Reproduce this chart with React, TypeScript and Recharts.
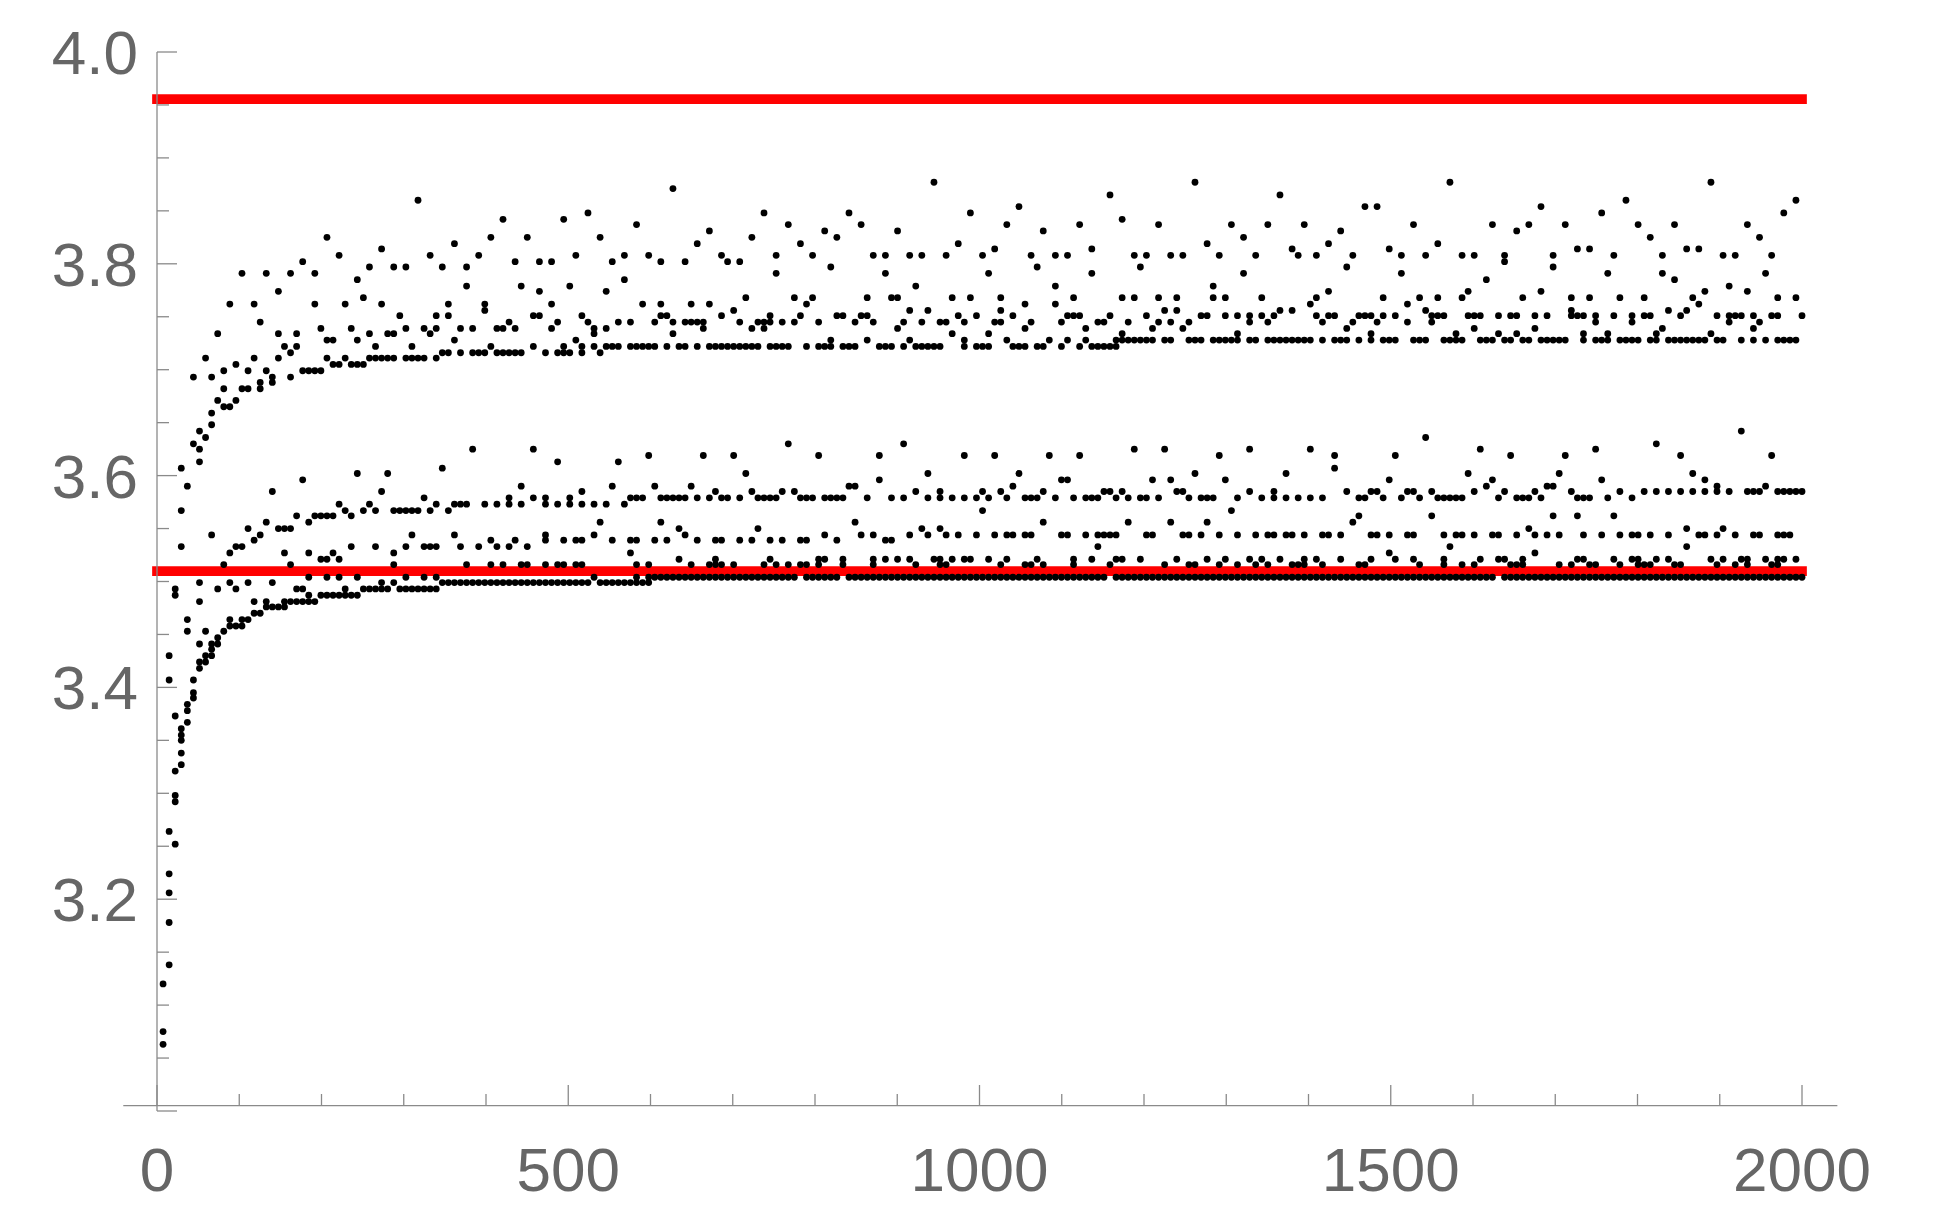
import { ScatterChart, Scatter, XAxis, YAxis, ReferenceLine } from "recharts"

// columns are evenly spaced, 271 of them between 0 and 2000
const colStep = 2000 / 271

// dense rows: [y, [firstCol, lastCol][]]
const floorRuns: [number, [number, number][]][] = [
  [3.504, [[82, 105], [107, 112], [114, 156], [158, 220], [222, 271]]],
  [3.499, [[47, 71], [73, 81]]],
  [3.493, [[34, 38], [40, 46]]],
  [3.487, [[27, 33]]],
  [3.481, [[21, 26]]],
]

// scattered points below the floor / early curve: [y, cols]
const curvePoints: [number, number[]][] = [
  [3.504, [25, 28, 30, 33, 41, 44, 46, 72, 79, 81]],
  [3.499, [7, 12, 15, 19, 37, 39]],
  [3.493, [3, 10, 13, 23, 24, 31]],
  [3.487, [3, 25]],
  [3.481, [7, 16, 18]],
  [3.476, [18, 19, 20, 21]],
  [3.47, [16, 17]],
  [3.464, [5, 12, 14, 15]],
  [3.458, [12, 13, 14]],
  [3.453, [5, 8, 11]],
  [3.447, [10]],
  [3.441, [7, 9, 10]],
  [3.436, [9]],
  [3.43, [2, 8, 9]],
  [3.424, [7, 8]],
  [3.418, [7]],
  [3.407, [2, 6]],
  [3.395, [6]],
  [3.39, [6]],
  [3.384, [5]],
  [3.378, [5]],
  [3.373, [3]],
  [3.367, [5]],
  [3.361, [4]],
  [3.355, [4]],
  [3.35, [4]],
  [3.338, [4]],
  [3.327, [4]],
  [3.321, [3]],
  [3.298, [3]],
  [3.292, [3]],
  [3.264, [2]],
  [3.252, [3]],
  [3.224, [2]],
  [3.206, [2]],
  [3.178, [2]],
  [3.138, [2]],
  [3.12, [1]],
  [3.075, [1]],
  [3.063, [1]],
]

const lowerBand: [number, number[]][] = [
  [3.516, [11, 22, 39, 51, 55, 57, 60, 61, 64, 66, 67, 69, 70, 79, 81, 88, 91, 92, 93, 95, 100, 102, 104, 106, 107, 109, 113, 118, 125, 129, 130, 139, 143, 144, 146, 151, 157, 166, 170, 171, 175, 178, 181, 183, 187, 188, 189, 192, 198, 199, 208, 212, 215, 217, 223, 224, 225, 231, 233, 236, 237, 241, 244, 245, 246, 250, 251, 257, 260, 262, 266, 267]],
  [3.521, [27, 28, 30, 86, 92, 101, 109, 110, 113, 118, 120, 122, 124, 128, 129, 131, 133, 134, 137, 140, 145, 151, 154, 158, 159, 162, 168, 173, 176, 180, 182, 185, 189, 191, 195, 200, 204, 207, 212, 218, 221, 222, 225, 234, 235, 240, 243, 244, 247, 249, 256, 258, 261, 262, 265, 267, 268, 270]],
  [3.527, [12, 21, 25, 29, 39, 78, 203, 227]],
  [3.533, [4, 13, 14, 32, 36, 41, 44, 45, 46, 50, 53, 56, 58, 61, 155, 213, 252]],
  [3.539, [16, 55, 59, 64, 67, 69, 70, 75, 78, 79, 82, 84, 89, 92, 93, 96, 98, 101, 103, 106, 107, 112, 120, 121]],
  [3.544, [9, 17, 42, 49, 64, 72, 87, 110, 116, 118, 124, 127, 130, 132, 135, 138, 140, 141, 143, 144, 149, 150, 153, 155, 156, 157, 158, 163, 164, 169, 170, 172, 175, 178, 181, 183, 184, 186, 187, 189, 192, 193, 195, 200, 201, 203, 206, 207, 212, 214, 215, 217, 220, 221, 224, 227, 229, 231, 235, 238, 241, 243, 244, 246, 249, 254, 255, 257, 260, 263, 264, 267, 268, 269]],
  [3.55, [15, 20, 21, 22, 86, 99, 126, 129, 226, 252, 258]],
  [3.556, [18, 25, 73, 83, 115, 146, 160, 167, 173, 197]],
  [3.562, [23, 26, 27, 28, 29, 32, 198, 210, 230, 234, 240]],
  [3.567, [4, 31, 34, 36, 39, 40, 41, 42, 43, 45, 48, 136, 177]],
  [3.573, [30, 35, 46, 49, 50, 51, 54, 56, 58, 60, 64, 66, 68, 70, 72, 74, 77]],
  [3.579, [44, 58, 62, 64, 68, 78, 79, 80, 83, 84, 85, 86, 87, 89, 91, 93, 94, 96, 99, 100, 101, 102, 106, 107, 108, 110, 111, 112, 113, 117, 121, 123, 127, 129, 131, 133, 135, 137, 140, 143, 144, 145, 148, 151, 153, 154, 155, 158, 160, 162, 163, 165, 170, 172, 173, 174, 178, 182, 184, 186, 188, 190, 192, 198, 199, 202, 205, 208, 211, 212, 213, 214, 215, 221, 224, 225, 226, 228, 234, 235, 236, 239, 243]],
  [3.585, [19, 37, 70, 92, 98, 103, 105, 125, 129, 136, 139, 146, 156, 157, 159, 168, 169, 180, 184, 196, 200, 201, 206, 207, 210, 217, 222, 227, 233, 241, 245, 247, 249, 251, 253, 255, 257, 259, 262, 263, 264, 267, 268, 269, 270, 271]],
  [3.59, [5, 60, 75, 82, 88, 114, 115, 141, 219, 229, 230, 257, 265]],
  [3.596, [24, 119, 149, 150, 164, 167, 176, 203, 220, 238, 255]],
  [3.602, [33, 38, 97, 127, 142, 171, 186, 216, 231, 253]],
  [3.607, [4, 47, 194]],
  [3.613, [7, 66, 76]],
  [3.619, [81, 90, 95, 109, 119, 133, 138, 147, 152, 175, 194, 204, 223, 232, 251, 266]],
  [3.625, [7, 52, 62, 161, 166, 180, 190, 218, 237]],
  [3.63, [6, 104, 123, 247]],
  [3.636, [8, 209]],
  [3.642, [7, 261]],
]

const upperBand: [number, number[]][] = [
  [3.648, [9]],
  [3.659, [9]],
  [3.665, [11, 12]],
  [3.671, [10, 13]],
  [3.682, [11, 14, 15, 17]],
  [3.688, [17, 19]],
  [3.693, [6, 9, 19, 22]],
  [3.699, [11, 15, 18, 24, 25, 26, 27]],
  [3.705, [13, 29, 30, 32, 33, 34]],
  [3.711, [8, 16, 20, 28, 31, 35, 36, 37, 38, 39, 41, 42, 43, 44, 46]],
  [3.716, [22, 47, 48, 50, 52, 53, 54, 56, 57, 58, 59, 60, 64, 66, 67, 68, 70, 73]],
  [3.722, [21, 23, 36, 42, 55, 62, 67, 70, 72, 74, 75, 76, 78, 79, 80, 81, 82, 84, 86, 87, 89, 91, 92, 93, 94, 95, 96, 97, 98, 99, 101, 102, 103, 104, 107, 109, 110, 111, 113, 114, 115, 119, 120, 121, 123, 125, 126, 127, 128, 129, 133, 135, 136, 137, 141, 142, 143, 145, 146, 149, 152, 154, 155, 156, 157, 158]],
  [3.728, [28, 29, 33, 49, 69, 111, 117, 124, 133, 140, 147, 150, 153, 158, 159, 160, 161, 162, 163, 164, 166, 167, 170, 171, 172, 174, 175, 176, 177, 178, 180, 181, 183, 184, 185, 186, 187, 188, 189, 190, 192, 194, 195, 196, 198, 200, 202, 203, 204, 207, 208, 209, 212, 213, 214, 215, 218, 219, 220, 222, 223, 225, 226, 228, 229, 230, 231, 232, 235, 237, 238, 239, 241, 242, 243, 244, 246, 247, 249, 250, 251, 252, 253, 254, 255, 257, 258, 261, 263, 265, 267, 268, 269, 270]],
  [3.734, [10, 20, 23, 35, 38, 39, 45, 72, 85, 131, 137, 159, 178, 200, 214, 221, 224, 235, 239, 247, 256]],
  [3.739, [27, 32, 41, 44, 46, 50, 52, 56, 57, 59, 65, 72, 74, 90, 98, 100, 122, 143, 153, 164, 169, 196, 217, 227, 248, 263]],
  [3.745, [17, 58, 66, 71, 76, 78, 82, 85, 87, 88, 89, 90, 96, 99, 100, 101, 103, 105, 109, 115, 118, 123, 126, 129, 130, 133, 138, 139, 144, 149, 155, 156, 160, 165, 167, 170, 180, 183, 192, 197, 201, 206, 210, 237, 243, 259, 264]],
  [3.751, [40, 46, 48, 62, 63, 70, 83, 84, 93, 101, 106, 112, 113, 116, 117, 132, 135, 141, 150, 151, 152, 157, 163, 172, 173, 176, 178, 180, 182, 184, 191, 193, 194, 198, 199, 200, 202, 204, 210, 211, 212, 216, 217, 218, 221, 223, 224, 227, 229, 233, 234, 235, 237, 240, 243, 245, 246, 251, 257, 259, 260, 261, 263, 266, 267, 271]],
  [3.756, [54, 95, 124, 127, 139, 166, 168, 185, 187, 209, 233, 249, 252]],
  [3.762, [12, 16, 26, 31, 37, 48, 54, 65, 80, 83, 88, 91, 107, 143, 148, 190, 206, 254]],
  [3.768, [34, 97, 105, 108, 117, 121, 122, 131, 134, 139, 151, 159, 161, 165, 168, 174, 176, 182, 191, 202, 208, 211, 215, 225, 233, 236, 241, 245, 253, 267, 270]],
  [3.774, [20, 63, 74, 193, 216, 228, 255, 262]],
  [3.779, [51, 60, 68, 125, 148, 174, 259]],
  [3.785, [33, 77, 219, 250]],
  [3.791, [14, 18, 22, 26, 102, 120, 137, 154, 179, 205, 239, 248, 265]],
  [3.797, [35, 39, 41, 47, 51, 111, 145, 162, 196, 230]],
  [3.802, [24, 59, 63, 65, 75, 83, 87, 94, 96, 222]],
  [3.808, [30, 45, 53, 69, 77, 81, 93, 102, 108, 118, 120, 124, 126, 130, 136, 144, 148, 150, 161, 163, 167, 169, 175, 181, 188, 191, 197, 205, 209, 215, 217, 222, 230, 240, 248, 258, 260, 266]],
  [3.814, [37, 138, 154, 187, 203, 234, 236, 252, 254]],
  [3.819, [49, 89, 106, 132, 173, 193, 211]],
  [3.825, [28, 55, 61, 73, 98, 112, 179, 246, 264]],
  [3.831, [91, 110, 122, 146, 195, 224]],
  [3.837, [79, 104, 116, 140, 152, 165, 177, 183, 189, 207, 220, 226, 232, 244, 250, 262]],
  [3.842, [57, 67, 159]],
  [3.848, [71, 100, 114, 134, 238, 268]],
  [3.854, [142, 199, 201, 228]],
  [3.86, [43, 242, 270]],
  [3.865, [157, 185]],
  [3.871, [85]],
  [3.877, [128, 171, 213, 256]],
]

// horizontal reference levels
const refLevels = [3.9555, 3.5098]

const xTicks = [0, 100, 200, 300, 400, 500, 600, 700, 800, 900, 1000, 1100, 1200, 1300, 1400, 1500, 1600, 1700, 1800, 1900, 2000]
const yTicks = [3, 3.05, 3.1, 3.15, 3.2, 3.25, 3.3, 3.35, 3.4, 3.45, 3.5, 3.55, 3.6, 3.65, 3.7, 3.75, 3.8, 3.85, 3.9, 3.95, 4]

const axisGray = "#8a8a8a"
const labelGray = "#666666"
const font = "'Liberation Sans', Arial, sans-serif"

const fromRows = (rows: [number, number[]][]) =>
  rows.flatMap(([y, cols]) => cols.map((c) => ({ x: c * colStep, y })))

const fromRuns = (rows: [number, [number, number][]][]) =>
  rows.flatMap(([y, runs]) =>
    runs.flatMap(([a, b]) => {
      const pts = []
      for (let c = a; c <= b; c++) pts.push({ x: c * colStep, y })
      return pts
    })
  )

const floorData = [...fromRuns(floorRuns), ...fromRows(curvePoints)]
const lowerData = fromRows(lowerBand)
const upperData = fromRows(upperBand)

const Dot = (p: any) => <circle cx={p.cx} cy={p.cy} r={3.4} fill="#000" />

function XTick(props: any) {
  const { x, y, payload } = props
  const major = payload.value % 500 === 0
  const base = y - 5
  return (
    <g>
      <line x1={x} y1={base} x2={x} y2={base - (major ? 21 : 12)} stroke={axisGray} strokeWidth={1.3} />
      {major && (
        <text x={x} y={y + 80} textAnchor="middle" fill={labelGray} fontSize={62} fontFamily={font}>
          {payload.value}
        </text>
      )}
    </g>
  )
}

function YTick(props: any) {
  const { x, y, payload } = props
  const v = payload.value
  const major = Math.round(v * 100) % 20 === 0
  return (
    <g>
      <line x1={x} y1={y} x2={x + (major ? 20 : 12)} y2={y} stroke={axisGray} strokeWidth={1.3} />
      {major && v > 3.01 && (
        <text x={x - 19} y={y + 22} textAnchor="end" fill={labelGray} fontSize={62} fontFamily={font}>
          {v.toFixed(1)}
        </text>
      )}
    </g>
  )
}

export default function App() {
  return (
    <div style={{ position: "absolute", left: 0, top: 0, width: 1941, height: 1207, background: "#fff" }}>
      <ScatterChart width={1941} height={1207} margin={{ top: 52, right: 139, bottom: 0, left: 100 }}>
        <XAxis
          type="number"
          dataKey="x"
          domain={[0, 2000]}
          ticks={xTicks}
          interval={0}
          height={96}
          axisLine={false}
          tickLine={false}
          tickSize={0}
          tickMargin={0}
          tick={<XTick />}
        />
        <YAxis
          type="number"
          dataKey="y"
          domain={[3, 4]}
          ticks={yTicks}
          interval={0}
          width={57}
          axisLine={{ stroke: axisGray, strokeWidth: 1.3 }}
          tickLine={false}
          tickSize={0}
          tickMargin={0}
          tick={<YTick />}
        />
        <ReferenceLine
          segment={[{ x: -41, y: 3.005 }, { x: 2043, y: 3.005 }]}
          stroke={axisGray}
          strokeWidth={1.3}
          ifOverflow="visible"
        />
        <Scatter data={floorData} shape={Dot} isAnimationActive={false} />
        <Scatter data={lowerData} shape={Dot} isAnimationActive={false} />
        <Scatter data={upperData} shape={Dot} isAnimationActive={false} />
        {refLevels.map((v) => (
          <ReferenceLine key={v} y={v} stroke="#ff0000" strokeWidth={9.7} strokeLinecap="square" ifOverflow="visible" />
        ))}
      </ScatterChart>
    </div>
  )
}
